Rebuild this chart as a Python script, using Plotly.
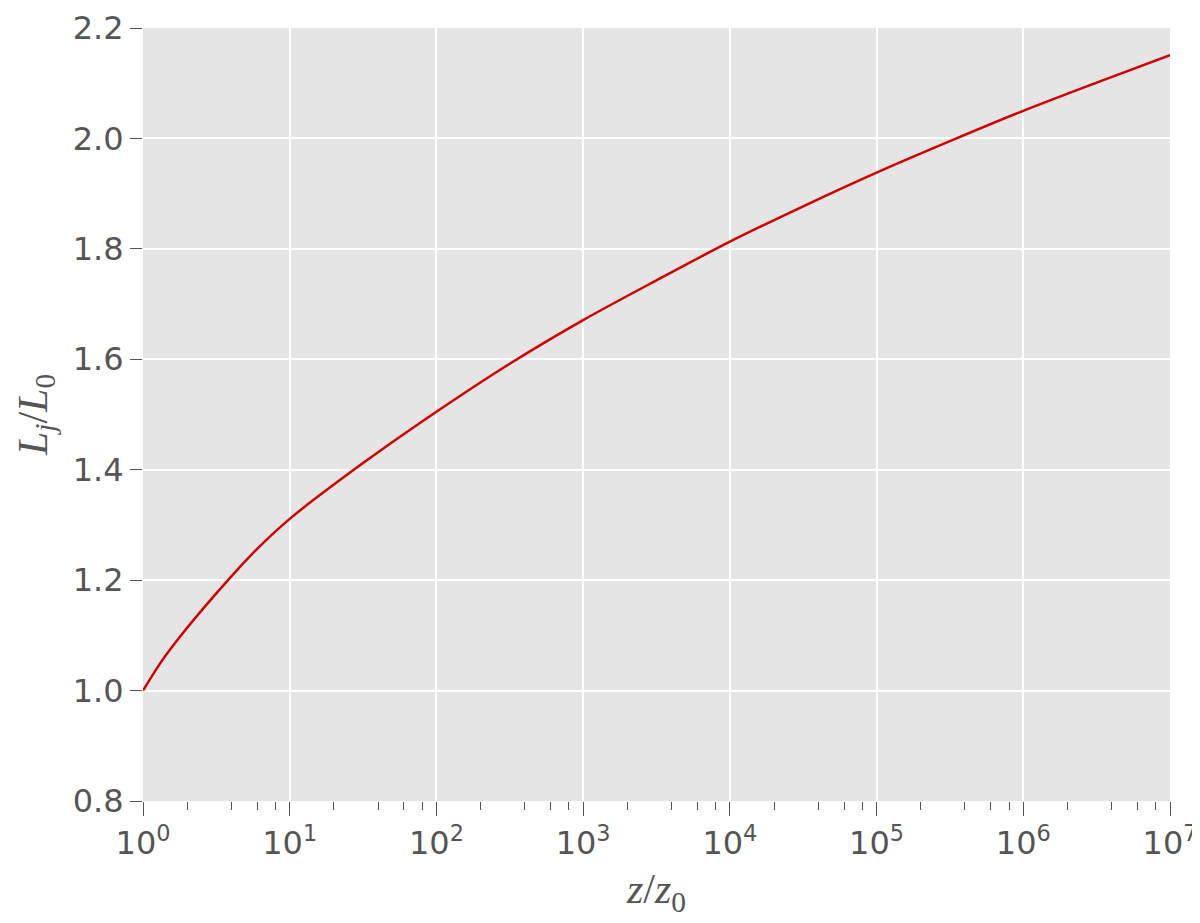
import plotly.graph_objects as go

z_ratio = [1, 1.33, 1.78, 3.16, 5.62, 10, 31.6, 100, 316, 1e3, 3162, 1e4,
           31623, 1e5, 316228, 1e6, 3162278, 1e7]
lj_ratio = [1.000, 1.052, 1.097, 1.176, 1.249, 1.311, 1.412, 1.505, 1.592, 1.671,
            1.743, 1.813, 1.877, 1.938, 1.995, 2.050, 2.101, 2.151]

x_tick_vals = [1, 10, 100, 1e3, 1e4, 1e5, 1e6, 1e7]
x_tick_text = ['10<sup>%d</sup>' % i for i in range(8)]
x_minor_vals = [m * 10 ** d for d in range(7) for m in (2, 4, 6, 8)]
y_tick_vals = [0.8, 1.0, 1.2, 1.4, 1.6, 1.8, 2.0, 2.2]

fig = go.Figure()
fig.add_trace(go.Scatter(
    x=z_ratio, y=lj_ratio, mode='lines',
    line=dict(color='#d40000', width=2.5, shape='spline', smoothing=0.8),
    showlegend=False,
))
# empty trace on a second x axis, only there to carry the minor ticks
fig.add_trace(go.Scatter(x=[1, 1e7], y=[None, None], xaxis='x2', showlegend=False,
                         hoverinfo='skip'))

tick_font = dict(family='DejaVu Sans', size=32, color='#555555')
title_font = dict(family='Liberation Serif', size=42, color='#555555')

# the page puts the figure 8 px in from the top-left corner
fig.update_layout(
    width=1200, height=915,
    margin=dict(l=135, r=38, t=20, b=122),
    paper_bgcolor='white',
    plot_bgcolor='#e5e5e5',
    xaxis2=dict(
        type='log', range=[0, 7], overlaying='x', anchor='y', side='bottom',
        tickmode='array', tickvals=x_minor_vals, showticklabels=False,
        ticks='outside', ticklen=8, tickwidth=1, tickcolor='#555555',
        showgrid=False, showline=False, zeroline=False, automargin=False,
    ),
)
fig.layout.xaxis.update(
    type='log', range=[0, 7],
    tickmode='array', tickvals=x_tick_vals, ticktext=x_tick_text,
    ticks='outside', ticklen=14, tickwidth=1, tickcolor='#555555',
    showgrid=True, gridcolor='white', gridwidth=1.5,
    showline=False, zeroline=False, automargin=False,
    tickfont=tick_font,
    title=dict(text='<i>z</i>/<i>z</i><sub>0</sub>', font=title_font, standoff=12),
)
fig.layout.yaxis.update(
    range=[0.8, 2.2],
    tickmode='array', tickvals=y_tick_vals, ticktext=['%.1f' % v for v in y_tick_vals],
    ticks='outside', ticklen=12, tickwidth=1, tickcolor='#555555',
    showgrid=True, gridcolor='white', gridwidth=1.5,
    showline=False, zeroline=False, automargin=False,
    tickfont=tick_font,
    title=dict(text='<i>L</i><sub><i>j</i></sub>/<i>L</i><sub>0</sub>', font=title_font, standoff=12),
)

fig.write_html('out.html')
